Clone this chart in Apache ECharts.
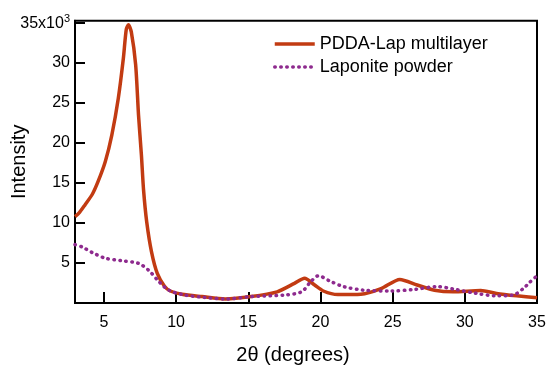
<!DOCTYPE html>
<html><head><meta charset="utf-8">
<script src="https://cdn.jsdelivr.net/npm/echarts@6/dist/echarts.min.js"></script>
<style>html,body{margin:0;padding:0;background:#fff}#c{width:550px;height:374px}</style>
</head><body><div id="c"></div>
<script>
var xTicks = [5, 10, 15, 20, 25, 30, 35];
var yTicks = [5, 10, 15, 20, 25, 30, 35];
var pddaX = [3, 3.3, 3.7, 4.2, 4.6, 5.1, 5.55, 6.0, 6.35, 6.55, 6.7, 6.9, 7.2, 7.4, 7.6, 7.75, 7.97, 8.3, 8.7, 9.2, 9.6, 10.4, 11.8, 13.4, 15.2, 17.0, 18.2, 18.9, 19.6, 20.2, 21.2, 22.8, 24.2, 25.5, 26.7, 27.9, 29.2, 31.1, 32.2, 33.6, 35];
var pddaY = [10.8, 11.3, 12.3, 13.6, 15.2, 17.7, 21, 25.6, 30.6, 34.2, 34.8, 33.9, 29.8, 23.5, 18.5, 14.1, 10.1, 6.4, 3.7, 2.1, 1.5, 1.1, 0.8, 0.5, 0.8, 1.4, 2.45, 3.1, 2.25, 1.5, 1.05, 1.1, 1.8, 2.95, 2.25, 1.6, 1.4, 1.55, 1.2, 0.9, 0.65];
var lapX = [3, 3.5, 4.2, 5.1, 6.2, 7.4, 8.1, 8.8, 9.5, 10.6, 12.0, 13.4, 15.2, 17.5, 18.7, 19.3, 19.85, 20.7, 21.6, 23.0, 24.9, 26.5, 28.1, 29.2, 30.8, 32.2, 33.35, 34.05, 34.5, 35];
var lapY = [7.3, 7.0, 6.3, 5.6, 5.3, 4.95, 4.1, 2.7, 1.6, 1.0, 0.7, 0.5, 0.8, 1.0, 1.4, 2.6, 3.4, 2.7, 2.05, 1.6, 1.5, 1.7, 2.05, 1.75, 1.2, 0.9, 1.0, 1.8, 2.6, 3.4];

function pairs(xs, ys) { return xs.map(function (x, i) { return [x, ys[i]]; }); }
var F = 'Liberation Sans, Arial, sans-serif';
var chart = echarts.init(document.getElementById('c'));
chart.setOption({
  animation: false,
  grid: { left: 75, right: 13, top: 20.7, bottom: 71, show: true, borderColor: '#000', borderWidth: 2,
          containLabel: false, outerBoundsMode: 'none' },
  legend: {
    orient: 'vertical', left: 268, top: 30, itemWidth: 40, itemHeight: 14, itemGap: 5,
    itemStyle: { opacity: 0 },
    lineStyle: { width: 3.5 },
    textStyle: { fontFamily: F, fontSize: 18, color: '#000' },
    data: ['PDDA-Lap multilayer', 'Laponite powder']
  },
  xAxis: {
    type: 'value', min: 3, max: 35,
    name: '2θ (degrees)', nameLocation: 'middle', nameGap: 42, nameMoveOverlap: false,
    nameTextStyle: { fontFamily: F, fontSize: 20, color: '#000', padding: [0, 26, 0, 0] },
    axisLine: { lineStyle: { color: '#000', width: 2 } },
    axisTick: { inside: true, length: 11, lineStyle: { color: '#000', width: 2 }, customValues: xTicks },
    axisLabel: { fontFamily: F, fontSize: 16, color: '#000', margin: 12, customValues: xTicks },
    splitLine: { show: false }
  },
  yAxis: {
    type: 'value', min: 0, max: 35.3,
    name: 'Intensity', nameLocation: 'middle', nameGap: 46, nameMoveOverlap: false,
    nameTextStyle: { fontFamily: F, fontSize: 20, color: '#000' },
    axisLine: { lineStyle: { color: '#000', width: 2 } },
    axisTick: { inside: true, length: 10, lineStyle: { color: '#000', width: 2 }, customValues: yTicks },
    axisLabel: {
      fontFamily: F, fontSize: 16, color: '#000', margin: 5, customValues: yTicks,
      formatter: function (v) { return v === 35 ? '35x10{sup|3}' : String(v); },
      rich: { sup: { fontFamily: F, fontSize: 11, color: '#000', verticalAlign: 'top', padding: [0, 0, 9, 0] } }
    },
    splitLine: { show: false }
  },
  series: [
    {
      name: 'PDDA-Lap multilayer', type: 'line', data: pairs(pddaX, pddaY), smooth: 0.25,
      symbol: 'none', color: '#c23b12', lineStyle: { color: '#c23b12', width: 3.5 }
    },
    {
      name: 'Laponite powder', type: 'line', data: pairs(lapX, lapY), smooth: 0.3,
      symbol: 'none', color: '#8e2a8e', lineStyle: { color: '#8e2a8e', width: 3.5, type: [0.5, 5.5], cap: 'round' }
    }
  ]
});
</script></body></html>
